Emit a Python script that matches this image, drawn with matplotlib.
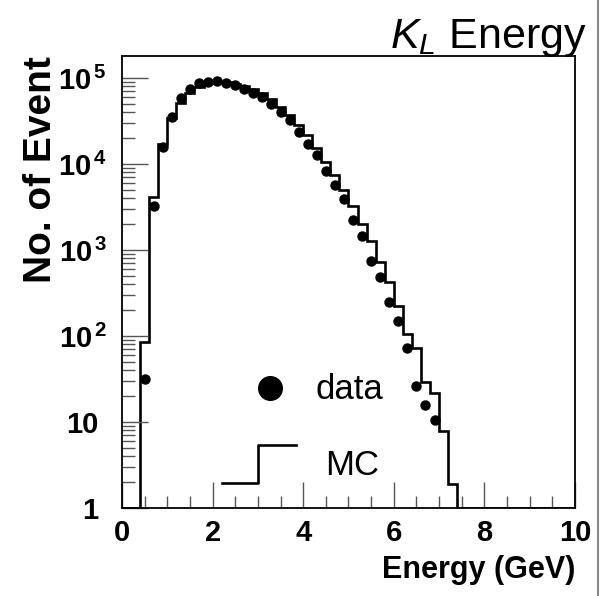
import matplotlib.pyplot as plt
import matplotlib.transforms as mtransforms
import numpy as np
from matplotlib.lines import Line2D

plt.rcParams['font.family'] = ['Liberation Sans', 'DejaVu Sans']
plt.rcParams['mathtext.fontset'] = 'custom'
plt.rcParams['mathtext.rm'] = 'Liberation Sans'
plt.rcParams['mathtext.it'] = 'Liberation Sans:italic'
plt.rcParams['mathtext.bf'] = 'Liberation Sans:bold'

# bin edges of the MC histogram (GeV)
edges = np.round(np.arange(0.4, 7.41, 0.2), 2)

# MC counts per bin
mc = [85, 4130, 17100, 33800, 51200, 67000, 78600, 87500, 91000, 89800,
      84900, 79600, 73500, 66400, 57000, 46400, 37600, 28400, 21700, 15400,
      10600, 7450, 4920, 3250, 2030, 1270, 719, 428, 224, 106,
      72, 29, 21.6, 7.9, 1.9]

# data points (bin centres and counts)
data_x = [0.5, 0.7, 0.9, 1.1, 1.3, 1.5, 1.7, 1.9, 2.1, 2.3, 2.5, 2.7, 2.9,
          3.1, 3.3, 3.5, 3.7, 3.9, 4.1, 4.3, 4.5, 4.7, 4.9, 5.1, 5.3, 5.5,
          5.7, 5.9, 6.1, 6.3, 6.5, 6.7, 6.9]
data_y = [32, 3250, 15800, 35200, 57800, 74500, 87500, 90600, 91000, 86800,
          81800, 74500, 67500, 59300, 50200, 40600, 32500, 23600, 17100,
          12700, 8290, 5620, 3870, 2230, 1440, 751, 485, 249, 151, 72,
          26, 15.6, 10.5]

ytick_vals = [1, 10, 100, 1e3, 1e4, 1e5]
ytick_labels = ["1", "10", r"$\mathbf{10}^{\,\mathbf{2}}$", r"$\mathbf{10}^{\,\mathbf{3}}$",
                r"$\mathbf{10}^{\,\mathbf{4}}$", r"$\mathbf{10}^{\,\mathbf{5}}$"]

fig = plt.figure(figsize=(6.06, 5.96), dpi=100)
ax = fig.add_axes([0.2013, 0.1477, 0.7475, 0.7583])

ax.stairs(mc, edges, baseline=1, color="black", linewidth=1.9)
ax.plot([0, 0.4], [1, 1], color="black", linewidth=1.9)
ax.plot([7.4, 10], [1, 1], color="black", linewidth=1.9)
ax.plot(data_x, data_y, "o", color="black", markersize=6.5, linestyle="none")

ax.set_yscale("log")
ax.set_xlim(0, 10)
ax.set_ylim(1, 1.8e5)

ax.set_xticks([0, 2, 4, 6, 8, 10])
ax.set_xticks(np.arange(0, 10.01, 0.5), minor=True)
ax.set_xticklabels(["0", "2", "4", "6", "8", "10"], fontweight="bold", fontsize=21)
ax.set_yticks(ytick_vals)
ax.set_yticklabels(ytick_labels, fontweight="bold", fontsize=21)
ax.yaxis.set_minor_locator(plt.matplotlib.ticker.LogLocator(base=10, subs=np.arange(2, 10)))
ax.yaxis.set_minor_formatter(plt.matplotlib.ticker.NullFormatter())

ax.tick_params(which="major", direction="in", length=19, width=1, color="#555555",
               top=False, right=False)
ax.tick_params(axis="x", which="major", pad=8)
ax.tick_params(axis="y", which="major", pad=11)
ax.tick_params(which="minor", direction="in", length=9, width=1, color="#555555",
               top=False, right=False)
for s in ax.spines.values():
    s.set_linewidth(1.3)

# plain labels (no exponent) sit a bit further left, like the "10" base of the others
shift = mtransforms.ScaledTranslation(-8 / 100, 0, fig.dpi_scale_trans)
for lab in ax.get_yticklabels()[:2]:
    lab.set_transform(lab.get_transform() + shift)

ax.set_xlabel("Energy (GeV)", fontsize=22, fontweight="bold", loc="right", labelpad=6)
ax.set_ylabel("No. of Event", fontsize=28, fontweight="bold", loc="top", labelpad=-1)

fig.text(0.968, 0.937, r"$K_{L}$ Energy", fontsize=31, ha="right", va="center")

# legend
ax.plot([0.327], [0.265], "o", color="black", markersize=17, transform=ax.transAxes)
ax.text(0.428, 0.262, "data", fontsize=25, va="center", transform=ax.transAxes)
ax.plot([0.221, 0.300, 0.300, 0.384], [0.055, 0.055, 0.139, 0.139], color="black",
        linewidth=1.9, transform=ax.transAxes)
ax.text(0.448, 0.095, "MC", fontsize=25, va="center", transform=ax.transAxes)

fig.add_artist(Line2D([0.987, 0.987], [0, 1], color="#888888", linewidth=1.5,
                      transform=fig.transFigure))

fig.savefig("out.png", dpi=100)
